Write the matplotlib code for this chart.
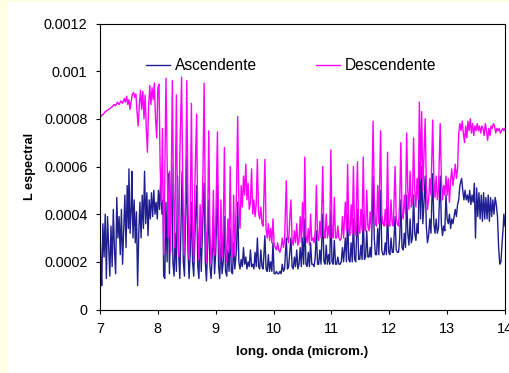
import matplotlib
matplotlib.use("Agg")
import matplotlib.pyplot as plt
from matplotlib.patches import Rectangle

# ---------------- data (y values in units of 1e-4) ----------------
x_desc = [7.00, 7.03, 7.06, 7.09, 7.12, 7.15, 7.18, 7.21, 7.24, 7.27, 7.30, 7.33, 7.36, 7.39, 7.42, 7.44,
          7.46, 7.48, 7.50, 7.52, 7.54, 7.56, 7.58, 7.60, 7.62, 7.64, 7.66, 7.68, 7.70, 7.72, 7.74, 7.76,
          7.78, 7.80, 7.82, 7.84, 7.86, 7.88, 7.90, 7.92, 7.94, 7.96, 7.98,
          8.00, 8.02, 8.04, 8.06, 8.08, 8.10, 8.12, 8.14, 8.16, 8.18, 8.20, 8.22, 8.25, 8.27, 8.29, 8.32,
          8.34, 8.36, 8.38, 8.41, 8.43, 8.45, 8.48, 8.50, 8.52, 8.54, 8.56, 8.58, 8.60, 8.62, 8.64, 8.67,
          8.69, 8.71, 8.73, 8.75, 8.78, 8.80, 8.82, 8.84, 8.86, 8.88, 8.90, 8.92, 8.94, 8.96, 8.98, 9.00,
          9.03, 9.05, 9.07, 9.09, 9.11, 9.13, 9.15, 9.17, 9.19, 9.21, 9.23, 9.25, 9.27, 9.29, 9.31, 9.33,
          9.36, 9.38, 9.40, 9.42, 9.44, 9.46, 9.48, 9.50, 9.52, 9.54, 9.56, 9.58, 9.60, 9.62, 9.64, 9.66,
          9.68, 9.70, 9.72, 9.74, 9.76, 9.78, 9.80, 9.82, 9.85, 9.87, 9.89, 9.91, 9.93, 9.95, 9.97, 9.99,
          10.01, 10.03, 10.05, 10.07, 10.09, 10.11, 10.13, 10.15, 10.17, 10.19, 10.22, 10.24, 10.26, 10.28,
          10.30, 10.32, 10.34, 10.36, 10.38, 10.40, 10.42, 10.44, 10.46, 10.48, 10.50, 10.52, 10.54, 10.56,
          10.58, 10.60, 10.62, 10.64, 10.66, 10.68, 10.70, 10.72, 10.74, 10.76, 10.78, 10.80, 10.82, 10.85,
          10.87, 10.89, 10.91, 10.93, 10.95, 10.97, 10.99, 11.01, 11.03, 11.05, 11.07, 11.09, 11.11, 11.13,
          11.15, 11.17, 11.19, 11.21, 11.24, 11.26, 11.28, 11.30, 11.32, 11.34, 11.36, 11.38, 11.40, 11.42,
          11.45, 11.47, 11.49, 11.51, 11.53, 11.55, 11.57, 11.59, 11.61, 11.63, 11.65, 11.67, 11.69, 11.72,
          11.74, 11.76, 11.78, 11.80, 11.82, 11.85, 11.87, 11.89, 11.91, 11.93, 11.95, 11.97, 11.99, 12.01,
          12.03, 12.05, 12.07, 12.10, 12.12, 12.14, 12.16, 12.18, 12.20, 12.22, 12.24, 12.26, 12.28, 12.30,
          12.32, 12.34, 12.36, 12.38, 12.40, 12.42, 12.44, 12.46, 12.48, 12.50, 12.52, 12.54, 12.56, 12.58,
          12.60, 12.62, 12.64, 12.66, 12.68, 12.70, 12.72, 12.75, 12.77, 12.79, 12.81, 12.83, 12.85, 12.88,
          12.90, 12.92, 12.94, 12.96, 12.98, 13.00, 13.02, 13.04, 13.06, 13.08, 13.10, 13.12, 13.14, 13.16,
          13.18, 13.20, 13.22, 13.24, 13.26, 13.28, 13.30, 13.32, 13.34, 13.36, 13.38, 13.40, 13.42, 13.44,
          13.46, 13.48, 13.50, 13.52, 13.54, 13.56, 13.58, 13.60, 13.62, 13.64, 13.66, 13.68, 13.70, 13.72,
          13.74, 13.76, 13.78, 13.80, 13.82, 13.84, 13.86, 13.88, 13.90, 13.92, 13.94, 13.96, 13.98, 14.00]
y_desc = [8.05, 8.15, 8.2, 8.3, 8.35, 8.4, 8.45, 8.5, 8.6, 8.55, 8.7, 8.6, 8.75, 8.65, 8.85, 8.7,
          8.95, 8.6, 8.8, 8.4, 8.75, 9.05, 9.1, 8.9, 9.05, 8.3, 7.7, 8.6, 9.2, 8.4, 9.15, 8.0,
          9.0, 7.6, 6.6, 8.5, 9.4, 8.6, 9.3, 8.8, 9.5, 8.0, 7.2,
          9.3, 9.45, 6.0, 4.5, 7.6, 2.3, 5.5, 9.7, 6.5, 3.0, 5.8, 2.4, 9.6, 5.0, 2.6, 9.0,
          4.0, 2.2, 6.5, 9.75, 5.5, 2.3, 5.0, 9.6, 4.5, 2.1, 4.0, 8.65, 3.5, 2.0, 5.2, 8.2,
          3.4, 2.1, 4.4, 2.6, 5.8, 9.5, 4.2, 2.0, 3.6, 7.5, 3.2, 1.9, 2.8, 5.0, 2.3, 3.5,
          7.45, 3.0, 2.0, 4.6, 2.2, 3.2, 6.8, 2.8, 2.0, 3.8, 2.4, 6.0, 2.6, 2.2, 4.8, 2.3,
          5.0, 8.1, 4.5, 3.4, 5.2, 4.3, 5.6, 4.8, 6.1, 4.6, 5.3, 4.2, 4.5, 5.9, 4.0, 4.6,
          3.9, 4.4, 6.3, 4.1, 3.8, 4.3, 3.6, 3.5, 6.3, 3.4, 3.0, 3.6, 2.9, 3.4, 2.8, 3.8,
          2.7, 2.6, 2.5, 2.8, 2.5, 2.4, 2.6, 3.0, 2.6, 2.9, 5.4, 3.0, 2.8, 3.8,
          4.6, 2.9, 2.7, 3.3, 2.8, 3.6, 2.7, 2.9, 3.9, 2.8, 4.5, 3.0, 6.4, 3.1,
          2.8, 3.4, 2.7, 4.0, 2.9, 3.0, 2.8, 3.3, 5.2, 3.0, 2.9, 3.7, 3.0, 6.0,
          3.1, 3.0, 4.0, 3.0, 3.5, 3.0, 6.7, 3.2, 3.0, 4.7, 3.0, 3.0, 3.5, 3.0,
          2.9, 3.0, 3.9, 3.0, 4.5, 3.3, 6.1, 3.4, 3.1, 4.4, 3.2, 6.0, 3.3, 3.1,
          6.2, 3.3, 3.2, 4.2, 3.3, 6.4, 3.4, 3.3, 5.0, 3.5, 3.3, 4.1, 3.4, 7.9,
          4.8, 3.6, 3.5, 5.2, 3.6, 7.5, 4.0, 3.6, 3.5, 4.2, 3.5, 6.6, 3.6, 3.5,
          4.6, 3.6, 3.5, 6.0, 3.8, 3.6, 3.5, 4.5, 7.0, 4.0, 3.8, 4.8, 4.0, 7.4,
          5.0, 4.2, 5.8, 4.3, 4.5, 7.2, 5.0, 4.3, 5.5, 4.6, 8.7, 5.5, 8.3, 5.0,
          6.5, 8.0, 5.3, 4.2, 4.6, 5.5, 4.8, 7.95, 5.5, 4.7, 5.6, 4.6, 5.0, 7.8,
          5.5, 4.6, 5.2, 4.8, 5.6, 4.8, 5.5, 4.5, 5.4, 5.9, 5.2, 5.6, 6.1, 5.5,
          5.9, 7.4, 7.8, 7.5, 7.9, 7.4, 7.0, 7.7, 7.2, 7.9, 7.5, 8.0, 7.4, 7.8,
          7.3, 7.7, 7.5, 7.8, 7.5, 7.7, 7.4, 7.7, 7.6, 7.3, 7.8, 7.5, 7.1, 7.6,
          7.3, 7.7, 7.6, 7.8, 7.7, 7.4, 7.6, 7.5, 7.6, 7.4, 7.5, 7.6, 7.5, 7.6]

x_asc = [7.00, 7.02, 7.03, 7.05, 7.07, 7.09, 7.11, 7.13, 7.15, 7.17, 7.19, 7.21, 7.23, 7.25, 7.27, 7.29,
         7.31, 7.33, 7.35, 7.37, 7.39, 7.41, 7.43, 7.45, 7.47, 7.49, 7.50, 7.52, 7.54, 7.55, 7.57, 7.59,
         7.61, 7.63, 7.65, 7.67, 7.69, 7.71, 7.73, 7.75, 7.77, 7.79, 7.81, 7.83, 7.85, 7.87, 7.89, 7.91,
         7.93, 7.95, 7.97, 7.99, 8.01, 8.03, 8.05, 8.07, 8.09, 8.10, 8.12, 8.14, 8.16, 8.18, 8.20, 8.22,
         8.24, 8.26, 8.28, 8.30, 8.32, 8.34, 8.36, 8.38, 8.40, 8.42, 8.44, 8.46, 8.48, 8.50, 8.52, 8.54,
         8.56, 8.58, 8.60, 8.62, 8.64, 8.67, 8.69, 8.71, 8.73, 8.75, 8.78, 8.80, 8.82, 8.84, 8.86, 8.88,
         8.90, 8.92, 8.94, 8.96, 8.98, 9.00, 9.03, 9.05, 9.07, 9.09, 9.11, 9.13, 9.15, 9.17, 9.19, 9.21,
         9.23, 9.25, 9.27, 9.29, 9.31, 9.33, 9.36, 9.38, 9.40, 9.42, 9.44, 9.46, 9.48, 9.50, 9.52, 9.54,
         9.56, 9.58, 9.60, 9.62, 9.64, 9.66, 9.68, 9.70, 9.72, 9.74, 9.76, 9.78, 9.80, 9.82, 9.85, 9.87,
         9.89, 9.91, 9.93, 9.95, 9.97, 9.99, 10.01, 10.03, 10.05, 10.07, 10.09, 10.11, 10.13, 10.15, 10.17,
         10.19, 10.22, 10.24, 10.26, 10.28, 10.30, 10.32, 10.34, 10.36, 10.38, 10.40, 10.42, 10.44, 10.46,
         10.48, 10.50, 10.52, 10.54, 10.56, 10.58, 10.60, 10.62, 10.64, 10.66, 10.68, 10.70, 10.72, 10.74,
         10.76, 10.78, 10.80, 10.82, 10.85, 10.87, 10.89, 10.91, 10.93, 10.95, 10.97, 10.99, 11.01, 11.03,
         11.05, 11.07, 11.09, 11.11, 11.13, 11.15, 11.17, 11.19, 11.21, 11.24, 11.26, 11.28, 11.30, 11.32,
         11.34, 11.36, 11.38, 11.40, 11.42, 11.45, 11.47, 11.49, 11.51, 11.53, 11.55, 11.57, 11.59, 11.61,
         11.63, 11.65, 11.67, 11.69, 11.72, 11.74, 11.76, 11.78, 11.80, 11.82, 11.85, 11.87, 11.89, 11.91,
         11.93, 11.95, 11.97, 11.99, 12.01, 12.03, 12.05, 12.07, 12.10, 12.12, 12.14, 12.16, 12.18, 12.20,
         12.22, 12.24, 12.26, 12.28, 12.30, 12.32, 12.34, 12.36, 12.38, 12.40, 12.42, 12.44, 12.46, 12.48,
         12.50, 12.52, 12.54, 12.56, 12.58, 12.60, 12.62, 12.64, 12.66, 12.68, 12.70, 12.72, 12.75, 12.77,
         12.79, 12.81, 12.83, 12.85, 12.88, 12.90, 12.92, 12.94, 12.96, 12.98, 13.00, 13.02, 13.04, 13.06,
         13.08, 13.10, 13.12, 13.14, 13.16, 13.18, 13.20, 13.22, 13.25, 13.27, 13.29, 13.31, 13.33, 13.35,
         13.37, 13.39, 13.41, 13.43, 13.45, 13.47, 13.49, 13.51, 13.53, 13.55, 13.57, 13.59, 13.61, 13.63,
         13.65, 13.67, 13.69, 13.71, 13.73, 13.75, 13.77, 13.79, 13.81, 13.83, 13.85, 13.87, 13.89, 13.91,
         13.93, 13.95, 13.97, 13.98, 14.00]
y_asc = [3.3, 1.5, 1.0, 3.6, 2.2, 4.0, 1.3, 3.9, 2.6, 1.4, 3.5, 1.8, 4.2, 2.5, 1.5, 4.7,
         3.0, 3.9, 2.3, 4.2, 1.9, 3.4, 4.8, 2.6, 5.2, 3.4, 5.9, 3.2, 4.3, 5.8, 3.0, 4.6,
         2.8, 4.1, 1.0, 3.2, 4.5, 3.0, 4.8, 3.4, 5.8, 3.6, 4.9, 3.1, 4.6, 3.8, 4.9, 3.9,
         5.0, 4.0, 4.5, 3.8, 5.0, 4.2, 5.5, 4.0, 4.6, 1.4, 1.3, 4.5, 2.0, 5.7, 1.5, 3.8,
         6.1, 2.0, 1.4, 3.2, 1.6, 5.6, 2.3, 1.3, 3.5, 5.8, 2.0, 1.4, 3.9, 6.4, 2.5, 1.3,
         2.4, 4.5, 2.0, 1.4, 3.0, 5.2, 1.8, 1.3, 3.6, 1.6, 4.0, 5.3, 2.0, 1.2, 2.6, 4.6,
         1.8, 1.3, 2.3, 3.5, 1.5, 2.4, 5.2, 1.8, 1.3, 2.8, 1.5, 2.0, 3.9, 1.6, 1.4, 2.5,
         1.6, 3.4, 1.6, 1.5, 2.8, 1.7, 2.5, 4.5, 2.0, 1.7, 2.1, 1.8, 2.6, 1.9, 2.2, 1.7,
         2.0, 1.8, 2.5, 1.8, 1.9, 1.7, 2.4, 1.8, 3.0, 1.8, 1.7, 2.5, 1.8, 1.7, 3.1, 1.7,
         1.6, 2.3, 1.6, 2.0, 1.6, 2.8, 1.5, 1.5, 1.6, 1.5, 1.5, 1.6, 1.5, 1.9, 1.6,
         1.7, 3.0, 1.7, 1.8, 2.4, 3.0, 1.8, 1.7, 2.2, 1.8, 2.5, 1.7, 1.9, 2.6,
         1.8, 3.0, 1.9, 3.8, 1.9, 1.8, 2.4, 1.8, 2.8, 1.9, 1.9, 1.8, 2.2, 3.3,
         1.9, 1.9, 2.5, 1.9, 4.0, 2.0, 1.9, 2.7, 1.9, 2.3, 1.9, 4.2, 2.0, 1.9,
         2.9, 1.9, 1.9, 2.2, 1.9, 1.9, 2.0, 2.6, 2.0, 3.0, 2.0, 4.0, 2.1, 2.0,
         2.8, 2.0, 3.8, 2.1, 2.0, 4.2, 2.1, 2.1, 2.7, 2.1, 4.0, 2.1, 2.2, 3.3,
         2.2, 2.2, 2.6, 2.2, 5.6, 3.0, 2.3, 2.3, 3.4, 2.3, 5.0, 2.5, 2.3, 2.3,
         2.8, 2.3, 4.3, 2.4, 2.3, 3.0, 2.4, 2.4, 3.9, 2.5, 2.4, 2.4, 3.0, 4.6,
         2.6, 2.5, 3.2, 2.6, 4.8, 3.2, 2.7, 3.8, 2.8, 3.0, 4.8, 3.2, 2.9, 3.6,
         3.2, 6.2, 3.8, 6.0, 3.6, 4.5, 5.6, 3.5, 2.8, 3.1, 3.8, 3.2, 5.7, 3.6,
         3.2, 3.8, 3.2, 3.4, 5.6, 3.6, 3.1, 3.5, 3.3, 4.8, 3.8, 3.6, 4.0, 3.4,
         3.8, 3.6, 3.9, 4.2, 3.9, 4.4, 4.6, 5.2, 5.5, 5.0, 4.6, 5.0, 4.6, 4.8,
         4.5, 5.0, 4.4, 4.8, 4.5, 5.3, 3.0, 5.1, 3.9, 4.9, 3.8, 4.8, 3.7, 4.9,
         3.8, 4.7, 3.8, 4.8, 3.7, 4.7, 3.9, 4.6, 4.0, 4.7, 4.4, 3.9, 2.6, 1.9,
         2.0, 2.8, 3.5, 4.0, 3.5]

x_ticks = [7, 8, 9, 10, 11, 12, 13, 14]
y_ticks = [0, 0.0002, 0.0004, 0.0006, 0.0008, 0.001, 0.0012]
y_tick_labels = ["0", "0.0002", "0.0004", "0.0006", "0.0008", "0.001", "0.0012"]
series_names = ["Ascendente", "Descendente"]
UNIT = 1e-4

# ---------------- figure ----------------
plt.rcParams['font.family'] = ['Liberation Sans', 'DejaVu Sans']
W, H = 509, 373
fig = plt.figure(figsize=(W / 100, H / 100), dpi=100)
fig.patch.set_facecolor('#FFFFE3')
fig.patches.append(Rectangle((8 / W, 0), 1, 1 - 2 / H, transform=fig.transFigure,
                             facecolor='white', edgecolor='none', zorder=-5))

ax = fig.add_axes([100 / W, 1 - 309.5 / H, 405 / W, 286 / H])
ax.set_zorder(2)
ax.set_facecolor('white')

ax.plot(x_asc, [v * UNIT for v in y_asc], color='#1F1F8F', lw=1.0, label=series_names[0])
ax.plot(x_desc, [v * UNIT for v in y_desc], color='#FF00FF', lw=1.0, label=series_names[1])

ax.set_xlim(7, 14)
ax.set_ylim(0, 0.0012)
ax.set_xticks(x_ticks)
ax.set_xticklabels([str(t) for t in x_ticks])
ax.set_yticks(y_ticks)
ax.set_yticklabels(y_tick_labels)
ax.tick_params(axis='both', direction='out', length=3, width=0.8, labelsize=10.4, colors='black')
ax.tick_params(axis='y', pad=6)
ax.tick_params(axis='x', pad=6)
for s in ax.spines.values():
    s.set_linewidth(0.8)
    s.set_color('black')

ax.set_xlabel('long. onda (microm.)', fontsize=9.6, fontweight='bold', labelpad=7)
ax.set_ylabel('L espectral', fontsize=9.2, fontweight='bold', labelpad=6)

leg = ax.legend(loc='center left', bbox_to_anchor=((146 - 100) / 405, (309.5 - 66) / 286),
                ncol=2, frameon=False, fontsize=11.2, handlelength=1.55, handletextpad=0.3,
                columnspacing=3.8, borderpad=0, borderaxespad=0)

fig.savefig('out.png', dpi=100, facecolor=fig.get_facecolor())
